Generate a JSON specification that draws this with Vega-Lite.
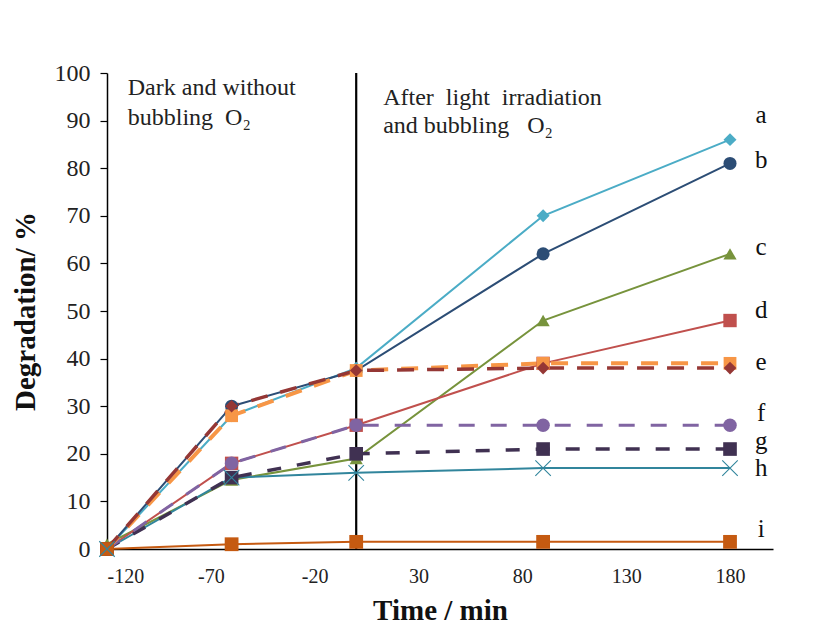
{
  "$schema": "https://vega.github.io/schema/vega-lite/v6.json",
  "width": 666,
  "height": 476,
  "autosize": "none",
  "padding": {"left": 107, "top": 73, "right": 62, "bottom": 90},
  "background": "white",
  "config": {
    "view": {"stroke": null},
    "font": "Liberation Serif",
    "axis": {"labelFont": "Liberation Serif", "titleFont": "Liberation Serif", "labelColor": "#222", "titleColor": "#111", "domainColor": "#000", "tickColor": "#000", "grid": false}
  },
  "datasets": {
    "pts": [
      {"s": "a", "t": -120, "v": 0}, {"s": "a", "t": -60, "v": 28}, {"s": "a", "t": 0, "v": 38}, {"s": "a", "t": 90, "v": 70}, {"s": "a", "t": 180, "v": 86},
      {"s": "b", "t": -120, "v": 0}, {"s": "b", "t": -60, "v": 30}, {"s": "b", "t": 0, "v": 37.5}, {"s": "b", "t": 90, "v": 62}, {"s": "b", "t": 180, "v": 81},
      {"s": "c", "t": -120, "v": 1}, {"s": "c", "t": -60, "v": 14.5}, {"s": "c", "t": 0, "v": 19}, {"s": "c", "t": 90, "v": 48}, {"s": "c", "t": 180, "v": 62},
      {"s": "d", "t": -120, "v": 0}, {"s": "d", "t": -60, "v": 18}, {"s": "d", "t": 0, "v": 26}, {"s": "d", "t": 90, "v": 39}, {"s": "d", "t": 180, "v": 48},
      {"s": "e1", "t": -120, "v": 0}, {"s": "e1", "t": -60, "v": 28}, {"s": "e1", "t": 0, "v": 37.5}, {"s": "e1", "t": 90, "v": 39}, {"s": "e1", "t": 180, "v": 39},
      {"s": "e2", "t": -120, "v": 0}, {"s": "e2", "t": -60, "v": 30}, {"s": "e2", "t": 0, "v": 37.5}, {"s": "e2", "t": 90, "v": 38}, {"s": "e2", "t": 180, "v": 38},
      {"s": "f", "t": -120, "v": 0}, {"s": "f", "t": -60, "v": 18}, {"s": "f", "t": 0, "v": 26}, {"s": "f", "t": 90, "v": 26}, {"s": "f", "t": 180, "v": 26},
      {"s": "g", "t": -120, "v": 0}, {"s": "g", "t": -60, "v": 15}, {"s": "g", "t": 0, "v": 20}, {"s": "g", "t": 90, "v": 21}, {"s": "g", "t": 180, "v": 21},
      {"s": "h", "t": -120, "v": 0}, {"s": "h", "t": -60, "v": 15}, {"s": "h", "t": 0, "v": 16}, {"s": "h", "t": 90, "v": 17}, {"s": "h", "t": 180, "v": 17},
      {"s": "i", "t": -120, "v": 0}, {"s": "i", "t": -60, "v": 1}, {"s": "i", "t": 0, "v": 1.5}, {"s": "i", "t": 90, "v": 1.5}, {"s": "i", "t": 180, "v": 1.5}
    ],
    "letters": [
      {"l": "a", "t": 195, "v": 91.2},
      {"l": "b", "t": 195, "v": 81.7},
      {"l": "c", "t": 195, "v": 63.4},
      {"l": "d", "t": 195, "v": 50.2},
      {"l": "e", "t": 195, "v": 39.3},
      {"l": "f", "t": 195, "v": 28.6},
      {"l": "g", "t": 195, "v": 22.6},
      {"l": "h", "t": 195, "v": 17},
      {"l": "i", "t": 195, "v": 4.2}
    ],
    "notes": [
      {"n": "dark", "t": -110, "v": 95.4},
      {"n": "light", "t": 13, "v": 93.3}
    ]
  },
  "layer": [
    {
      "data": {"values": [{"t": 0, "v": 0, "v2": 100}]},
      "mark": {"type": "rule", "color": "#000", "strokeWidth": 2.2},
      "encoding": {
        "x": {"field": "t", "type": "quantitative", "scale": {"domain": [-120, 200.7], "nice": false, "zero": false},
          "axis": {"values": [-120, -70, -20, 30, 80, 130, 180], "labelExpr": "toString(datum.value)", "ticks": false, "labelFontSize": 20, "labelPadding": 17, "domainWidth": 1.5, "title": "Time / min", "titleFontSize": 29, "titleFontWeight": "bold", "titlePadding": 10}},
        "y": {"field": "v", "type": "quantitative", "scale": {"domain": [0, 100], "nice": false},
          "axis": {"values": [0, 10, 20, 30, 40, 50, 60, 70, 80, 90, 100], "tickSize": 7, "tickWidth": 1.2, "labelFontSize": 24, "labelPadding": 10, "domainWidth": 1.5, "title": "Degradation/ %", "titleFontSize": 29, "titleFontWeight": "bold", "titlePadding": 14}},
        "y2": {"field": "v2"}
      }
    },
    {
      "data": {"name": "pts"},
      "transform": [{"filter": "indexof(['i','h','d','c','b','a'], datum.s) >= 0"}],
      "mark": {"type": "line", "strokeWidth": 2},
      "encoding": {
        "x": {"field": "t", "type": "quantitative"},
        "y": {"field": "v", "type": "quantitative"},
        "detail": {"field": "s"},
        "order": {"field": "t"},
        "color": {"field": "s", "type": "nominal", "legend": null,
          "scale": {"domain": ["i", "h", "g", "f", "d", "c", "b", "a", "e1", "e2"],
            "range": ["#C55A11", "#31859C", "#403152", "#8064A2", "#C0504D", "#77933C", "#2C4D75", "#4BACC6", "#F79646", "#953735"]}}
      }
    },
    {
      "data": {"name": "pts"},
      "transform": [{"filter": "datum.s == 'g'"}],
      "mark": {"type": "line", "strokeWidth": 3.5, "strokeDash": [14, 16], "color": "#403152"},
      "encoding": {"x": {"field": "t", "type": "quantitative"}, "y": {"field": "v", "type": "quantitative"}, "order": {"field": "t"}}
    },
    {
      "data": {"name": "pts"},
      "transform": [{"filter": "datum.s == 'f'"}],
      "mark": {"type": "line", "strokeWidth": 3, "strokeDash": [16, 16], "color": "#8064A2"},
      "encoding": {"x": {"field": "t", "type": "quantitative"}, "y": {"field": "v", "type": "quantitative"}, "order": {"field": "t"}}
    },
    {
      "data": {"name": "pts"},
      "transform": [{"filter": "datum.s == 'e1'"}],
      "mark": {"type": "line", "strokeWidth": 4, "strokeDash": [17, 13], "color": "#F79646"},
      "encoding": {"x": {"field": "t", "type": "quantitative"}, "y": {"field": "v", "type": "quantitative"}, "order": {"field": "t"}}
    },
    {
      "data": {"name": "pts"},
      "transform": [{"filter": "datum.s == 'e2'"}],
      "mark": {"type": "line", "strokeWidth": 3.5, "strokeDash": [17, 13], "color": "#953735"},
      "encoding": {"x": {"field": "t", "type": "quantitative"}, "y": {"field": "v", "type": "quantitative"}, "order": {"field": "t"}}
    },
    {
      "data": {"name": "pts"},
      "transform": [{"filter": "datum.s != 'h'"}],
      "mark": {"type": "point", "filled": true, "opacity": 1},
      "encoding": {
        "x": {"field": "t", "type": "quantitative"},
        "y": {"field": "v", "type": "quantitative"},
        "color": {"field": "s", "type": "nominal", "legend": null,
          "scale": {"domain": ["i", "h", "g", "f", "d", "c", "b", "a", "e1", "e2"],
            "range": ["#C55A11", "#31859C", "#403152", "#8064A2", "#C0504D", "#77933C", "#2C4D75", "#4BACC6", "#F79646", "#953735"]}},
        "shape": {"field": "s", "type": "nominal", "legend": null,
          "scale": {"domain": ["i", "g", "f", "d", "c", "b", "a", "e1", "e2"],
            "range": ["square", "square", "circle", "square", "triangle-up", "circle", "diamond", "square", "diamond"]}},
        "size": {"field": "s", "type": "nominal", "legend": null,
          "scale": {"domain": ["i", "g", "f", "d", "c", "b", "a", "e1", "e2"],
            "range": [190, 160, 60, 160, 280, 210, 380, 90, 130]}}
      }
    },
    {
      "data": {"name": "pts"},
      "transform": [{"filter": "datum.s == 'h'"}],
      "mark": {"type": "point", "filled": false, "shape": "M-1,-1L1,1M-1,1L1,-1", "size": 240, "strokeWidth": 1.1, "color": "#31859C", "opacity": 1},
      "encoding": {
        "x": {"field": "t", "type": "quantitative"},
        "y": {"field": "v", "type": "quantitative"}
      }
    },
    {
      "data": {"name": "letters"},
      "mark": {"type": "text", "fontSize": 25, "font": "Liberation Serif", "color": "#111", "align": "center", "baseline": "middle"},
      "encoding": {
        "x": {"field": "t", "type": "quantitative"},
        "y": {"field": "v", "type": "quantitative"},
        "text": {"field": "l"}
      }
    },
    {
      "data": {"name": "notes"},
      "transform": [{"filter": "datum.n == 'dark'"}],
      "mark": {"type": "text", "fontSize": 24, "font": "Liberation Serif", "color": "#222", "align": "left", "baseline": "alphabetic", "lineHeight": 30, "text": ["Dark and without", "bubbling\u00a0\u00a0O₂"]},
      "encoding": {
        "x": {"field": "t", "type": "quantitative"},
        "y": {"field": "v", "type": "quantitative"}
      }
    },
    {
      "data": {"name": "notes"},
      "transform": [{"filter": "datum.n == 'light'"}],
      "mark": {"type": "text", "fontSize": 24, "font": "Liberation Serif", "color": "#222", "align": "left", "baseline": "alphabetic", "lineHeight": 28, "text": ["After\u00a0\u00a0light\u00a0\u00a0irradiation", "and bubbling\u00a0\u00a0\u00a0O₂"]},
      "encoding": {
        "x": {"field": "t", "type": "quantitative"},
        "y": {"field": "v", "type": "quantitative"}
      }
    }
  ]
}
